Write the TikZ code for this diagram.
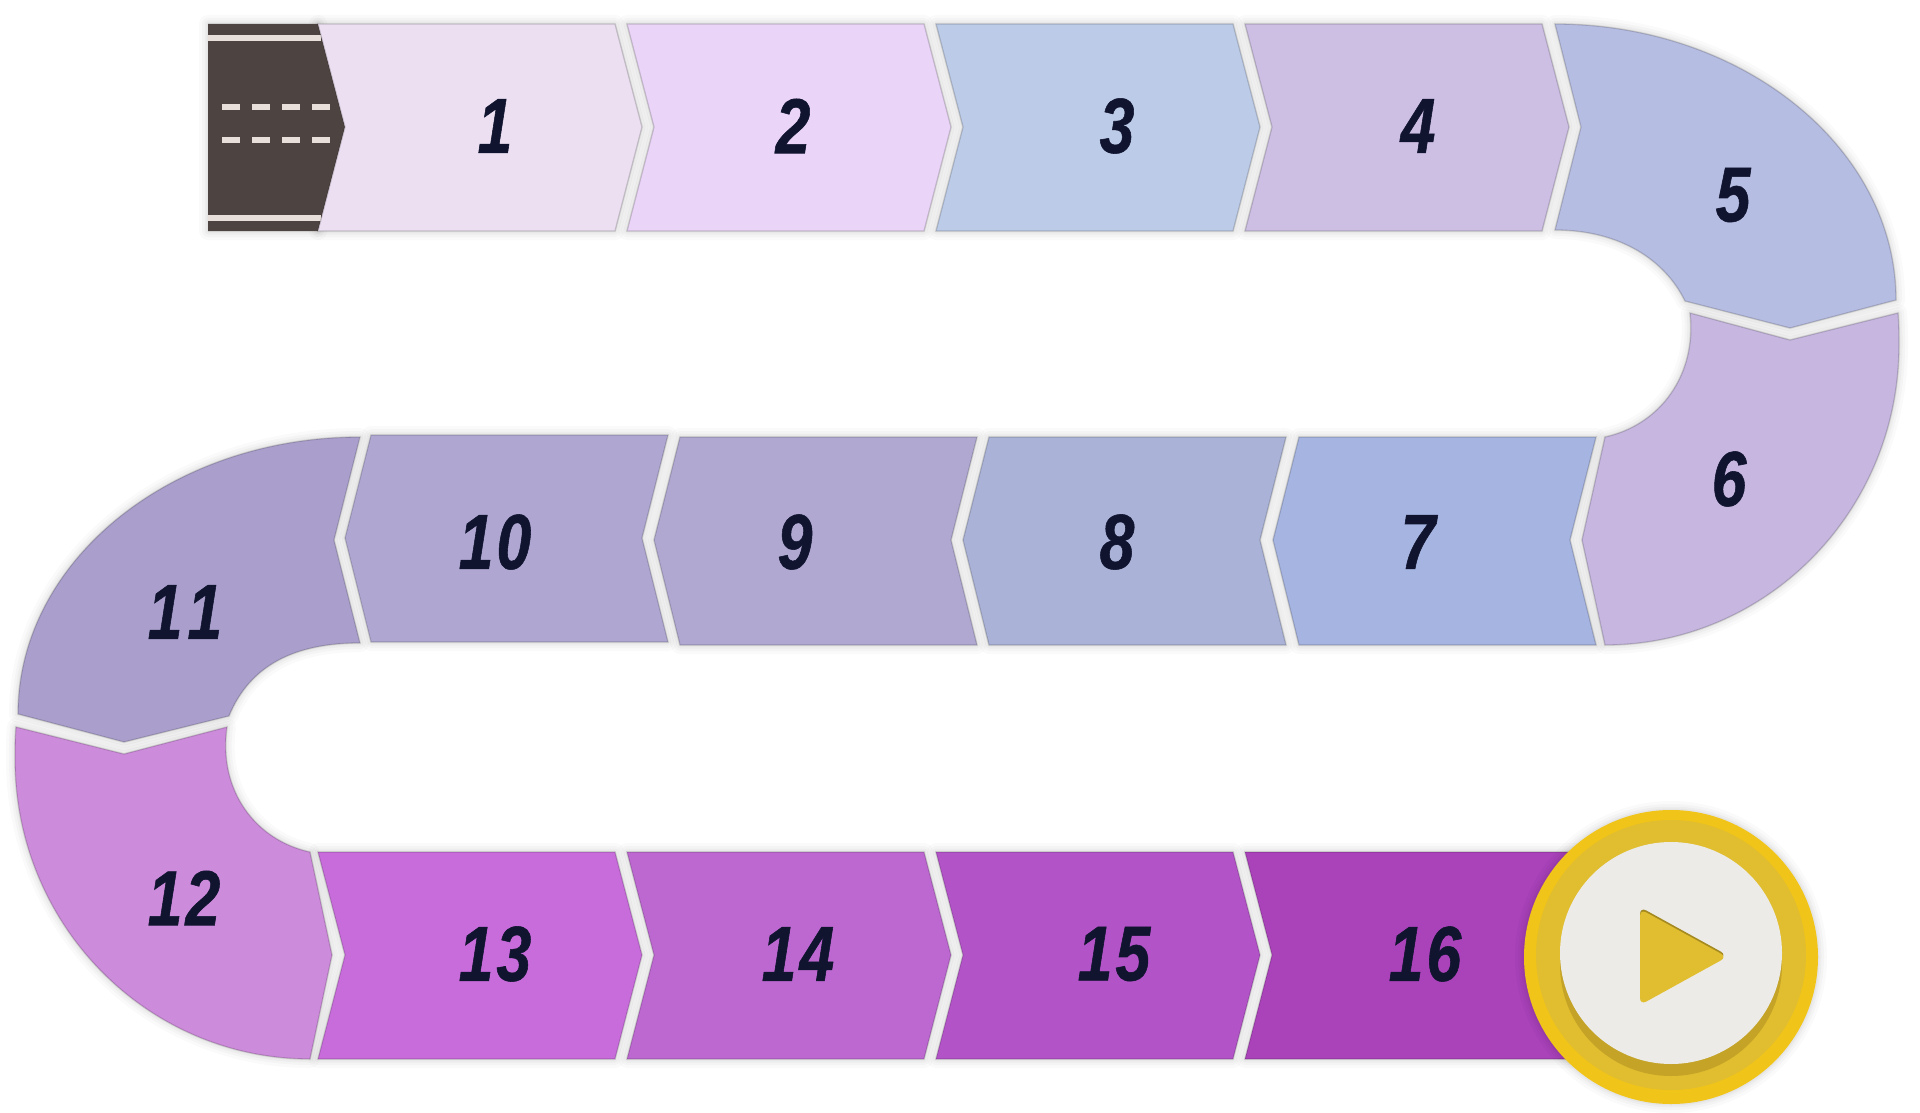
\documentclass[tikz,border=0pt]{standalone}
\usepackage{fontspec}
\newfontfamily\numfont[FakeStretch=0.8,FakeBold=0.7,LetterSpace=4]{Liberation Sans}
\definecolor{road}{HTML}{4D4341}
\definecolor{roadline}{HTML}{E8DFDB}
\definecolor{ringA}{HTML}{F0C419}
\definecolor{ringB}{HTML}{E1BD30}
\definecolor{ringC}{HTML}{C4A326}
\definecolor{discc}{HTML}{ECEBE7}
\definecolor{triD}{HTML}{A58A20}
\definecolor{numc}{HTML}{10142F}
\definecolor{c1}{HTML}{EBDFF1}
\definecolor{c2}{HTML}{EAD4F7}
\definecolor{c3}{HTML}{BCCBE7}
\definecolor{c4}{HTML}{CDBEE3}
\definecolor{c5}{HTML}{B6BDE2}
\definecolor{c6}{HTML}{C6B6E0}
\definecolor{c7}{HTML}{A5B4E0}
\definecolor{c8}{HTML}{AAB3D7}
\definecolor{c9}{HTML}{B0A8D1}
\definecolor{c10}{HTML}{AFA7D1}
\definecolor{c11}{HTML}{AA9FCC}
\definecolor{c12}{HTML}{CD8BDB}
\definecolor{c13}{HTML}{C76CDA}
\definecolor{c14}{HTML}{BC68D0}
\definecolor{c15}{HTML}{B353C8}
\definecolor{c16}{HTML}{AA42BA}
\tikzset{
  numlabel/.style={text=numc,inner sep=0pt,font=\numfont\bfseries\itshape\fontsize{78}{78}\selectfont},
  softa/.style={draw=black,draw opacity=.018,line width=18pt,line join=round},
  softb/.style={draw=black,draw opacity=.022,line width=12pt,line join=round},
  softc/.style={draw=black,draw opacity=.026,line width=7pt,line join=round},
  softd/.style={draw=black,draw opacity=.03,line width=3pt,line join=round},
  edgeline/.style={draw=black,draw opacity=.17,line width=1.3pt,line join=miter},
  roadmark/.style={fill=roadline}
}
\def\pa{(318,24)--(615,24)--(642,127)--(615,231)--(318,231)--(345,127)--cycle}
\def\pb{(627,24)--(924,24)--(951,127)--(924,231)--(627,231)--(654,127)--cycle}
\def\pc{(936,24)--(1233,24)--(1260,127)--(1233,231)--(936,231)--(963,127)--cycle}
\def\pd{(1245,24)--(1542,24)--(1569,127)--(1542,231)--(1245,231)--(1272,127)--cycle}
\def\pe{(1555,24) .. controls (1743,24) and (1896,148) .. (1896,300)--(1790,328)--(1685,301) .. controls (1665,260) and (1620,230) .. (1555,230)--(1581,127)--cycle}
\def\pf{(1690,313)--(1790,340)--(1898,313) .. controls (1899,323) and (1899,335) .. (1899,345) .. controls (1899,511) and (1767,645) .. (1605,645)--(1582,540)--(1605,437) .. controls (1660,425) and (1697,375) .. (1690,313)--cycle}
\def\pg{(1299,437)--(1596,437)--(1570,540)--(1596,645)--(1299,645)--(1273,540)--cycle}
\def\ph{(989,437)--(1286,437)--(1260,540)--(1286,645)--(989,645)--(963,540)--cycle}
\def\pi{(680,437)--(977,437)--(951,540)--(977,645)--(680,645)--(654,540)--cycle}
\def\pj{(371,435)--(668,435)--(642,538)--(668,642)--(371,642)--(345,538)--cycle}
\def\pk{(360,437)--(334,540)--(360,643) .. controls (295,643) and (250,665) .. (229,716)--(124,742)--(18,714) .. controls (18,561) and (171,437) .. (360,437)--cycle}
\def\pl{(16,727)--(124,754)--(227,727) .. controls (218,790) and (255,840) .. (310,852)--(332,955)--(310,1059) .. controls (147,1059) and (15,925) .. (15,759) .. controls (15,749) and (15,737) .. (16,727)--cycle}
\def\pm{(318,852)--(615,852)--(642,955)--(615,1059)--(318,1059)--(345,955)--cycle}
\def\pn{(627,852)--(924,852)--(951,955)--(924,1059)--(627,1059)--(654,955)--cycle}
\def\po{(936,852)--(1233,852)--(1260,955)--(1233,1059)--(936,1059)--(963,955)--cycle}
\def\pp{(1245,852)--(1620,852)--(1620,1059)--(1245,1059)--(1272,955)--cycle}
\begin{document}
\begin{tikzpicture}[x=1pt,y=-1pt]
\useasboundingbox (0,0) rectangle (1920,1113);
\fill[white] (0,0) rectangle (1920,1113);
% road
\foreach \w in {softa,softb,softc,softd}{\draw[\w] (208,24)--(318,24)--(345,127)--(318,231)--(208,231)--cycle;}
% soft shadows under all segments
\foreach \n in {a,b,c,d,e,f,g,h,i,j,k,l,m,n,o,p}{
  \expandafter\let\expandafter\curpath\csname p\n\endcsname
  \foreach \w in {softa,softb,softc,softd}{\draw[\w] \curpath;}
}
\fill[road] (208,24)--(318,24)--(345,127)--(318,231)--(208,231)--cycle;
\fill[roadmark] (208,35) rectangle (321,41);
\fill[roadmark] (208,215) rectangle (321,221);
\foreach \yy in {104,137}{
  \foreach \xx in {222,252,282,312}{
    \fill[roadmark] (\xx,\yy) rectangle (\xx+18,\yy+6);
  }
}
% segments
\foreach \n/\c in {a/c1,b/c2,c/c3,d/c4,e/c5,f/c6,g/c7,h/c8,i/c9,j/c10,k/c11,l/c12,m/c13,n/c14,o/c15,p/c16}{
  \expandafter\let\expandafter\curpath\csname p\n\endcsname
  \fill[\c] \curpath;
  \draw[edgeline] \curpath;
}
% labels
\node[numlabel] (n1) at (495,126) {1};
\node[numlabel] (n2) at (793,126) {2};
\node[numlabel] (n3) at (1117,126) {3};
\node[numlabel] (n4) at (1418,126) {4};
\node[numlabel] (n5) at (1733,195) {5};
\node[numlabel] (n6) at (1729,479) {6};
\node[numlabel] (n7) at (1418,542) {7};
\node[numlabel] (n8) at (1117,542) {8};
\node[numlabel] (n9) at (795,542) {9};
\node[numlabel] (n10) at (495,542) {10};
\node[numlabel] (n11) at (185,612) {1\kern5pt 1};
\node[numlabel] (n12) at (184,898) {12};
\node[numlabel] (n13) at (495,954) {13};
\node[numlabel] (n14) at (798,954) {14};
\node[numlabel] (n15) at (1114,954) {15};
\node[numlabel] (n16) at (1425,954) {16};
% end button
\foreach \w in {softa,softb,softc,softd}{\draw[\w] (1671,957) circle[radius=147];}
\fill[ringA] (1671,957) circle[radius=147];
\fill[ringB] (1671,955) circle[radius=135];
\fill[ringC] (1671,965) circle[radius=111];
\fill[discc] (1671,953) circle[radius=111];
\fill[triD,rounded corners=7pt] (1640,907)--(1727,955)--(1640,1003)--cycle;
\fill[ringB,rounded corners=7pt] (1640,909)--(1727,957)--(1640,1005)--cycle;
\end{tikzpicture}
\end{document}
